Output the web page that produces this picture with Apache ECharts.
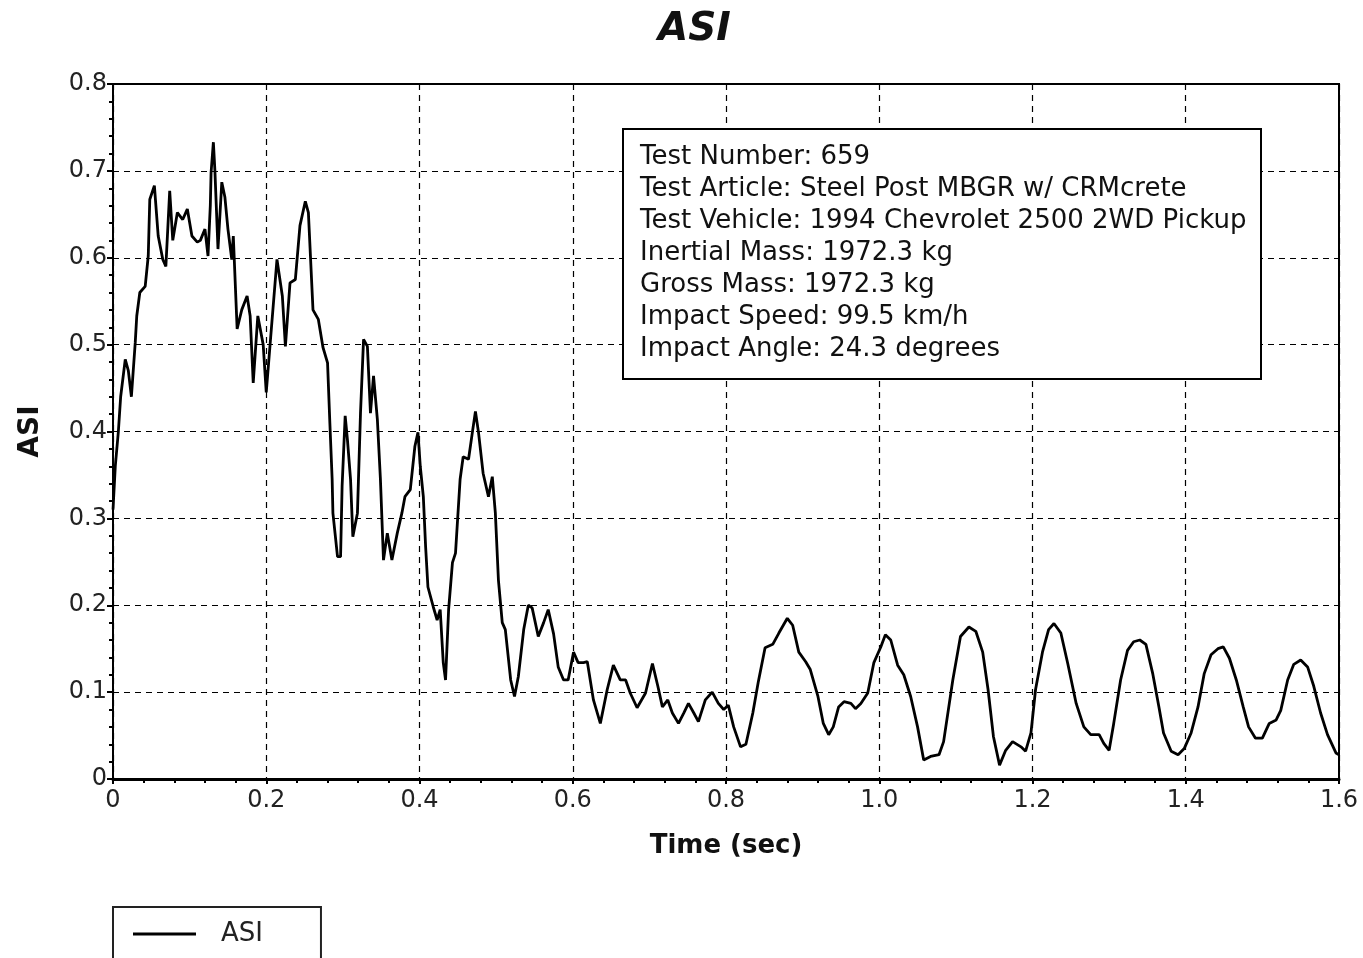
<!DOCTYPE html>
<html>
<head>
<meta charset="utf-8">
<script src="https://cdn.jsdelivr.net/npm/echarts@6/dist/echarts.min.js"></script>
<style>
html,body{margin:0;padding:0;background:#fff;}
#chart{width:1363px;height:958px;}
</style>
</head>
<body>
<div id="chart"></div>
<script>
const chartTitle = "ASI";
const xAxisName = "Time (sec)";
const yAxisName = "ASI";
const seriesName = "ASI";
const infoLines = [
  "Test Number: 659",
  "Test Article: Steel Post MBGR w/ CRMcrete",
  "Test Vehicle: 1994 Chevrolet 2500 2WD Pickup",
  "Inertial Mass: 1972.3 kg",
  "Gross Mass: 1972.3 kg",
  "Impact Speed: 99.5 km/h",
  "Impact Angle: 24.3 degrees"
];

const timeSec = [
  0.000,0.003,0.007,0.010,0.016,0.020,0.024,0.029,0.031,0.035,0.042,0.046,0.048,0.054,0.059,0.065,0.069,0.074,0.078,0.084,
  0.091,0.097,0.103,0.110,0.114,0.120,0.124,0.127,0.128,0.131,0.133,0.137,0.142,0.146,0.150,0.155,0.157,0.162,0.168,0.175,
  0.179,0.183,0.189,0.196,0.200,0.205,0.214,0.221,0.225,0.231,0.238,0.244,0.251,0.255,0.261,0.268,0.274,0.280,0.283,0.286,
  0.287,0.293,0.297,0.299,0.303,0.306,0.310,0.313,0.319,0.323,0.327,0.332,0.336,0.340,0.345,0.349,0.353,0.358,0.364,0.371,
  0.377,0.381,0.388,0.394,0.398,0.401,0.405,0.408,0.411,0.418,0.423,0.427,0.431,0.434,0.438,0.443,0.447,0.453,0.457,0.464,
  0.469,0.473,0.477,0.483,0.490,0.495,0.499,0.503,0.508,0.512,0.519,0.524,0.529,0.536,0.542,0.547,0.555,0.562,0.568,0.575,
  0.581,0.588,0.594,0.601,0.607,0.614,0.619,0.627,0.636,0.645,0.653,0.662,0.669,0.675,0.684,0.695,0.704,0.711,0.717,0.724,
  0.730,0.738,0.745,0.751,0.758,0.764,0.773,0.782,0.790,0.797,0.803,0.810,0.819,0.826,0.835,0.842,0.851,0.861,0.869,0.880,
  0.887,0.895,0.904,0.910,0.920,0.927,0.934,0.940,0.947,0.954,0.963,0.969,0.976,0.985,0.993,1.002,1.008,1.015,1.024,1.032,
  1.041,1.050,1.058,1.067,1.078,1.084,1.096,1.106,1.117,1.126,1.135,1.142,1.149,1.157,1.165,1.174,1.185,1.191,1.198,1.204,
  1.213,1.221,1.228,1.237,1.246,1.257,1.267,1.276,1.287,1.293,1.300,1.306,1.315,1.324,1.332,1.340,1.348,1.357,1.365,1.371,
  1.381,1.390,1.398,1.407,1.416,1.424,1.433,1.442,1.449,1.457,1.466,1.475,1.482,1.491,1.500,1.509,1.518,1.524,1.533,1.541,
  1.550,1.559,1.567,1.576,1.585,1.596,1.600
];

const asiValues = [
  0.310,0.360,0.400,0.440,0.483,0.470,0.440,0.502,0.533,0.560,0.567,0.602,0.667,0.683,0.625,0.598,0.590,0.677,0.620,0.652,
  0.644,0.656,0.625,0.618,0.620,0.633,0.602,0.660,0.698,0.733,0.700,0.610,0.687,0.670,0.633,0.598,0.625,0.518,0.540,0.556,
  0.533,0.456,0.533,0.500,0.445,0.500,0.598,0.556,0.498,0.571,0.575,0.637,0.665,0.652,0.540,0.529,0.497,0.479,0.410,0.345,
  0.306,0.256,0.256,0.337,0.418,0.390,0.345,0.279,0.306,0.421,0.506,0.498,0.421,0.464,0.414,0.345,0.252,0.283,0.252,0.283,
  0.306,0.325,0.333,0.383,0.399,0.360,0.325,0.267,0.221,0.198,0.183,0.195,0.134,0.114,0.195,0.249,0.260,0.345,0.371,0.368,
  0.399,0.423,0.399,0.352,0.325,0.348,0.306,0.229,0.180,0.172,0.114,0.095,0.118,0.172,0.200,0.197,0.164,0.180,0.195,0.167,
  0.129,0.114,0.114,0.146,0.134,0.134,0.135,0.091,0.064,0.103,0.131,0.114,0.114,0.099,0.082,0.099,0.133,0.107,0.083,0.091,
  0.076,0.064,0.076,0.087,0.076,0.066,0.091,0.100,0.087,0.080,0.085,0.060,0.037,0.040,0.076,0.111,0.151,0.155,0.168,0.185,
  0.177,0.146,0.135,0.126,0.095,0.064,0.051,0.060,0.083,0.089,0.087,0.081,0.087,0.099,0.134,0.152,0.166,0.160,0.131,0.120,
  0.095,0.060,0.022,0.026,0.028,0.043,0.114,0.164,0.175,0.170,0.146,0.103,0.049,0.016,0.033,0.043,0.037,0.032,0.053,0.103,
  0.146,0.172,0.179,0.168,0.133,0.087,0.060,0.051,0.051,0.041,0.033,0.064,0.114,0.148,0.158,0.160,0.155,0.121,0.083,0.053,
  0.032,0.028,0.035,0.053,0.083,0.121,0.143,0.150,0.152,0.139,0.114,0.083,0.060,0.047,0.047,0.064,0.068,0.079,0.114,0.132,
  0.137,0.129,0.107,0.076,0.051,0.030,0.028
];

const xTicks = [0, 0.2, 0.4, 0.6, 0.8, 1.0, 1.2, 1.4, 1.6];
const yTicks = [0, 0.1, 0.2, 0.3, 0.4, 0.5, 0.6, 0.7, 0.8];

const seriesData = timeSec.map((t, i) => [t, asiValues[i]]);
const FONT = "'DejaVu Sans', 'Liberation Sans', Arial, sans-serif";

const chart = echarts.init(document.getElementById('chart'), null, {renderer: 'canvas'});
chart.setOption({
  animation: false,
  backgroundColor: '#fff',
  title: {
    text: chartTitle,
    left: 653,
    top: 5,
    textStyle: {fontFamily: FONT, fontSize: 39, fontWeight: 'bold', fontStyle: 'italic', color: '#111'}
  },
  grid: {
    left: 113, right: 24, top: 84, bottom: 179,
    show: true, borderColor: '#000', borderWidth: 2, backgroundColor: '#fff'
  },
  legend: {
    show: true,
    left: 113, top: 907,
    padding: [14, 58, 26, 20],
    borderColor: '#222', borderWidth: 2,
    icon: 'rect', itemWidth: 63, itemHeight: 3,
    itemStyle: {color: '#000'},
    textStyle: {fontFamily: FONT, fontSize: 26, color: '#222', padding: [0, 0, 0, 20]},
    data: [seriesName]
  },
  xAxis: {
    type: 'value',
    min: xTicks[0], max: xTicks[xTicks.length - 1], interval: 0.2,
    name: xAxisName, nameLocation: 'middle', nameGap: 54,
    nameTextStyle: {fontFamily: FONT, fontSize: 26, fontWeight: 'bold', color: '#111'},
    axisLine: {show: true, lineStyle: {color: '#000', width: 3}},
    axisTick: {show: true, length: 5, lineStyle: {color: '#000', width: 2}},
    minorTick: {show: true, splitNumber: 5, length: 4, lineStyle: {color: '#000', width: 2}},
    axisLabel: {
      fontFamily: FONT, fontSize: 24, color: '#222', margin: 10,
      formatter: v => v === 0 ? '0' : v.toFixed(1)
    },
    splitLine: {show: true, lineStyle: {color: '#000', width: 1.2, type: [6, 5]}}
  },
  yAxis: {
    type: 'value',
    min: yTicks[0], max: yTicks[yTicks.length - 1], interval: 0.1,
    name: yAxisName, nameLocation: 'middle', nameGap: 68, nameRotate: 90,
    nameTextStyle: {fontFamily: FONT, fontSize: 28, fontWeight: 'bold', color: '#111'},
    axisLine: {show: true, lineStyle: {color: '#000', width: 2}},
    axisTick: {show: true, length: 6, lineStyle: {color: '#000', width: 2}},
    minorTick: {show: true, splitNumber: 5, length: 4, lineStyle: {color: '#000', width: 2}},
    axisLabel: {
      fontFamily: FONT, fontSize: 24, color: '#222', margin: 6,
      formatter: v => v === 0 ? '0' : v.toFixed(1)
    },
    splitLine: {show: true, lineStyle: {color: '#000', width: 1.2, type: [6, 5]}}
  },
  graphic: [
    {type: 'rect', left: 622, top: 128, z: 100,
     shape: {width: 638, height: 250},
     style: {fill: '#fff', stroke: '#000', lineWidth: 2}},
    {type: 'text', left: 640, top: 141, z: 101,
     style: {text: infoLines.join('\n'), font: "26px 'DejaVu Sans', 'Liberation Sans', sans-serif",
             fill: '#111', lineHeight: 32}}
  ],
  series: [{
    name: seriesName,
    type: 'line',
    data: seriesData,
    showSymbol: false,
    symbol: 'none',
    z: 3,
    lineStyle: {color: '#000', width: 2.8},
    itemStyle: {color: '#000'}
  }]
});
</script>
</body>
</html>
